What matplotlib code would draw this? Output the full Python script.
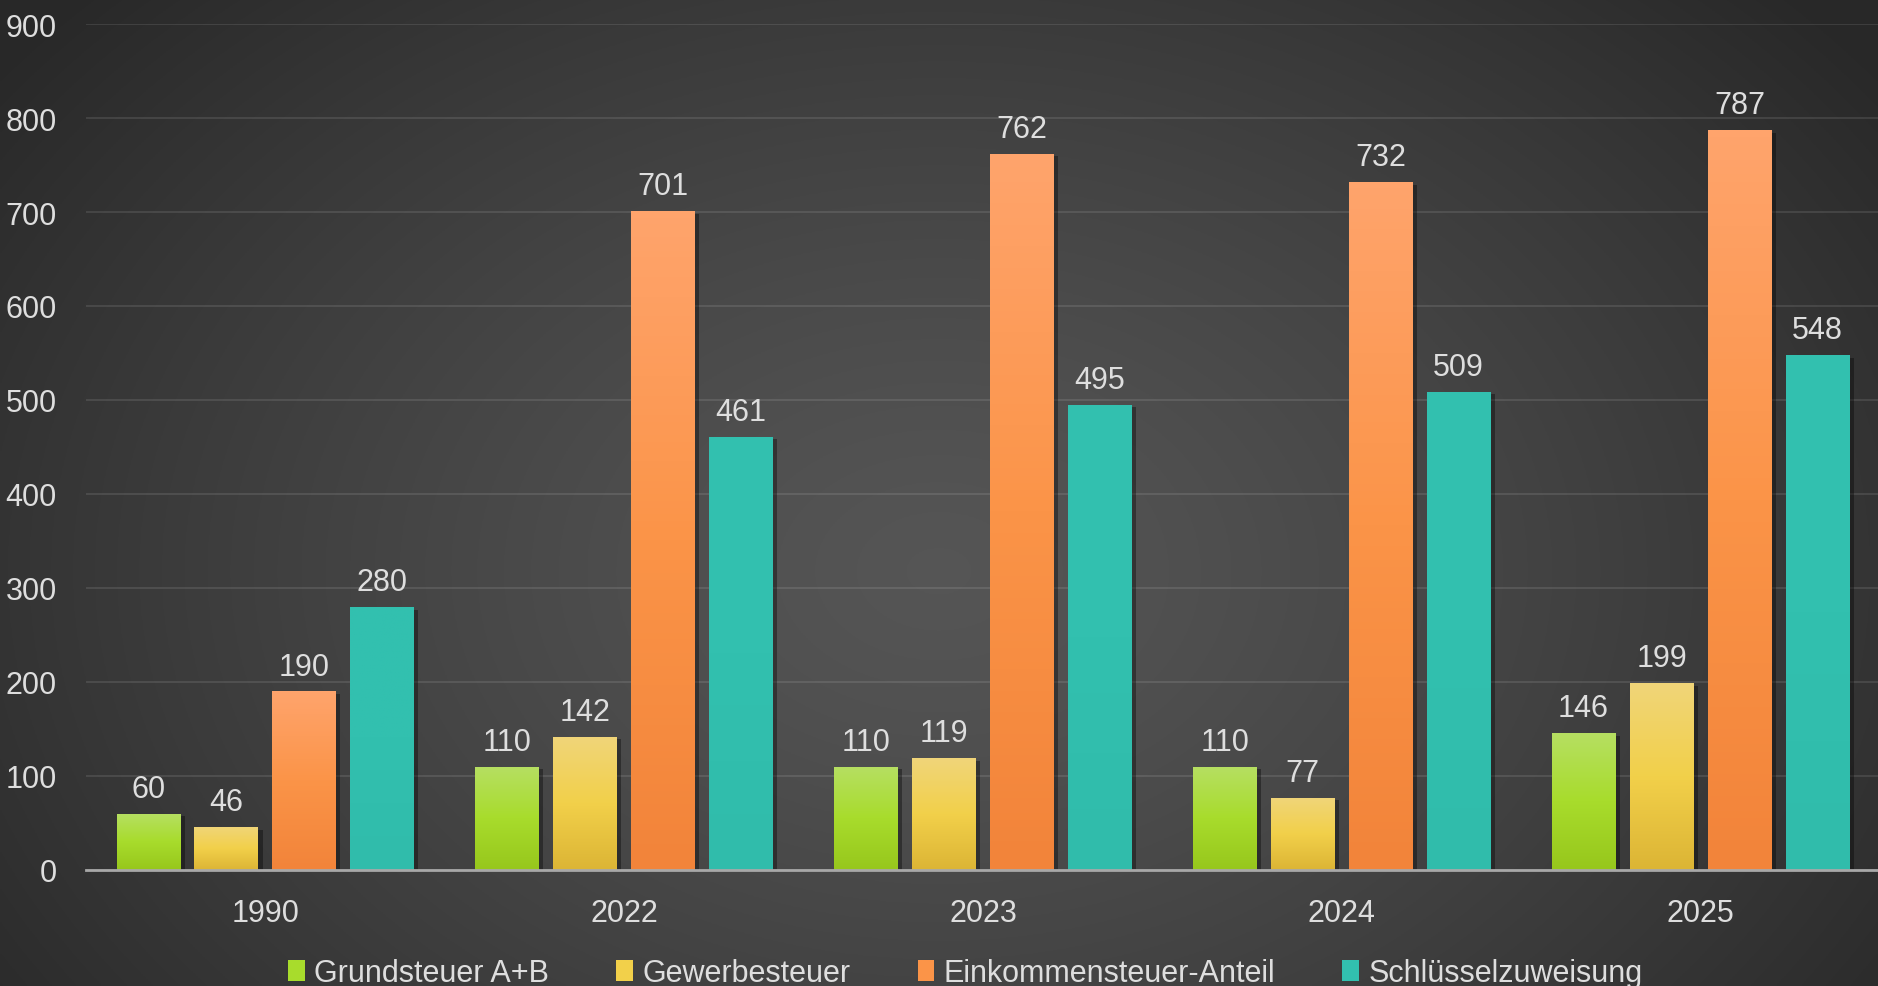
import numpy as np
import matplotlib.pyplot as plt
from matplotlib.patches import Patch
from matplotlib.colors import LinearSegmentedColormap
import matplotlib.patheffects as pe

plt.rcParams['font.family'] = ['Liberation Sans', 'DejaVu Sans']

# Datos
jahre = ['1990', '2022', '2023', '2024', '2025']
serien = ['Grundsteuer A+B', 'Gewerbesteuer', 'Einkommensteuer-Anteil', 'Schlüsselzuweisung']
grundsteuer = [60, 110, 110, 110, 146]
gewerbe = [46, 142, 119, 77, 199]
einkommen = [190, 701, 762, 732, 787]
schluessel = [280, 461, 495, 509, 548]
werte = [grundsteuer, gewerbe, einkommen, schluessel]

# Colores: arriba, medio, abajo
farben = [('#b6df62', '#a8dc2c', '#97c71c'),
          ('#f0d579', '#f2d04a', '#dcb535'),
          ('#ffa46c', '#fb9448', '#f2843a'),
          ('#32c0af', '#32c0af', '#30bcab')]
textfarbe = '#dedede'

fig = plt.figure(figsize=(18.78, 9.87), dpi=100)

# Fondo con degradado radial
bg = fig.add_axes([0, 0, 1, 1], zorder=-10)
yy, xx = np.mgrid[0:1:400j, 0:1:760j]
r = np.sqrt(((xx - 0.5) / 0.62) ** 2 + ((yy - 0.58) / 0.85) ** 2)
r = np.clip(r, 0, 1)
val = 0.335 - (0.335 - 0.16) * r ** 1.3
bg.imshow(np.dstack([val, val, val]), extent=[0, 1, 0, 1], aspect='auto', origin='upper')
bg.axis('off')

ax = fig.add_axes([86 / 1878, 116 / 987, 1 - 86 / 1878 + 0.001, 846 / 987])
ax.patch.set_alpha(0)

x = np.arange(len(jahre))
paso = 0.2173
ancho = 0.178

for i, (serie, w, c) in enumerate(zip(serien, werte, farben)):
    pos = x + (i - 1.5) * paso
    bars = ax.bar(pos, w, ancho, color=c[1], zorder=3,
                  path_effects=[pe.SimplePatchShadow(offset=(3, -2), alpha=0.35, shadow_rgbFace='black'),
                                pe.Normal()])
    cmap = LinearSegmentedColormap.from_list('g%d' % i, [c[2], c[1], c[0]])
    grad = np.linspace(1, 0, 100).reshape(-1, 1)
    for b, v in zip(bars, w):
        im = ax.imshow(grad, cmap=cmap, vmin=0, vmax=1, aspect='auto', zorder=4,
                       extent=[b.get_x(), b.get_x() + b.get_width(), 0, v])
        im.set_clip_path(b)
        ax.annotate(str(v), (b.get_x() + b.get_width() / 2, v), xytext=(0, 7),
                    textcoords='offset points', ha='center', va='bottom',
                    fontsize=22, color=textfarbe, zorder=5)

ax.set_xlim(-0.5, len(jahre) - 0.5)
ax.set_ylim(0, 900)
ax.set_yticks(range(0, 901, 100))
ax.set_xticks(x)
ax.set_xticklabels(jahre)
ax.tick_params(axis='both', length=0, labelsize=22, labelcolor=textfarbe)
ax.tick_params(axis='x', pad=20)
ax.tick_params(axis='y', pad=21)
ax.grid(axis='y', color='#ffffff', alpha=0.1, linewidth=1.5, zorder=0)
ax.set_axisbelow(True)
for s in ['top', 'right', 'left']:
    ax.spines[s].set_visible(False)
ax.spines['bottom'].set_color('#a8a8a8')
ax.spines['bottom'].set_linewidth(2)
ax.spines['bottom'].set_zorder(6)

# Leyenda
handles = [Patch(facecolor=c[1], edgecolor='none') for c in farben]
fig.legend(handles, serien, loc='center', bbox_to_anchor=(0.514, 0.013), ncol=4,
           frameon=False, fontsize=22, labelcolor=textfarbe, handlelength=0.55,
           handleheight=0.7, handletextpad=0.3, columnspacing=2.2)

fig.savefig('out.png', dpi=100)
